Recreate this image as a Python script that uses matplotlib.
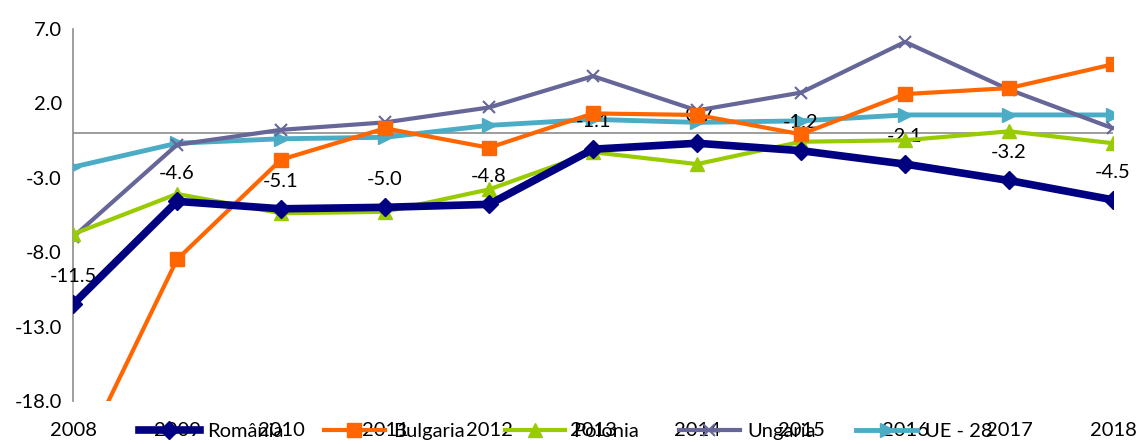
import numpy as np
import matplotlib
matplotlib.use("Agg")
import matplotlib.pyplot as plt

plt.rcParams['font.family'] = ['Lato', 'DejaVu Sans']

years = [2008, 2009, 2010, 2011, 2012, 2013, 2014, 2015, 2016, 2017, 2018]
romania = [-11.5, -4.6, -5.1, -5.0, -4.8, -1.1, -0.7, -1.2, -2.1, -3.2, -4.5]
bulgaria = [-22.9, -8.5, -1.8, 0.3, -1.0, 1.3, 1.2, -0.1, 2.6, 3.0, 4.6]
polonia = [-6.8, -4.1, -5.4, -5.3, -3.8, -1.3, -2.1, -0.6, -0.5, 0.1, -0.7]
ungaria = [-7.0, -0.8, 0.2, 0.7, 1.7, 3.8, 1.5, 2.7, 6.1, 2.9, 0.3]
ue28 = [-2.3, -0.7, -0.4, -0.3, 0.5, 0.9, 0.7, 0.8, 1.2, 1.2, 1.2]
yticks = [7.0, 2.0, -3.0, -8.0, -13.0, -18.0]

fs = 14.5

fig = plt.figure(figsize=(11.43, 4.44), dpi=100)
ax = fig.add_axes([0.0639, 0.0968, 0.9099, 0.839])

ax.axhline(0, color='#8c8c8c', lw=1.2, zorder=1)

ax.plot(years, ue28, color='#4bacc6', lw=3.5, marker='>', ms=10, label='UE - 28', zorder=3)
ax.plot(years, ungaria, color='#666699', lw=3, marker='x', ms=9, mew=1.5, label='Ungaria', zorder=4)
ax.plot(years, polonia, color='#99cc00', lw=3, marker='^', ms=10, label='Polonia', zorder=5)
ax.plot(years, bulgaria, color='#ff6600', lw=3, marker='s', ms=10, label='Bulgaria', zorder=6)
ax.plot(years, romania, color='#000080', lw=5.5, marker='D', ms=9, label='România', zorder=7)

for x, v in zip(years, romania):
    ax.annotate('%.1f' % v, (x, v), xytext=(0, 20), textcoords='offset points',
                ha='center', va='center', fontsize=fs)

ax.set_xlim(2008, 2018)
ax.set_ylim(-18, 7)
ax.set_yticks(yticks)
ax.set_yticklabels(['%.1f' % t for t in yticks])
ax.set_xticks(years)
ax.set_xticklabels([str(y) for y in years])
ax.tick_params(axis='both', length=0, labelsize=fs)
ax.tick_params(axis='x', pad=15)
ax.tick_params(axis='y', pad=8)

for s in ['top', 'right', 'bottom']:
    ax.spines[s].set_visible(False)
ax.spines['left'].set_color('#8c8c8c')
ax.spines['left'].set_linewidth(1.2)

h, l = ax.get_legend_handles_labels()
order = [4, 3, 2, 1, 0]
fig.legend([h[i] for i in order], [l[i] for i in order], loc='center',
           bbox_to_anchor=(0.495, 0.028), ncol=5, frameon=False, fontsize=fs,
           handlelength=3.0, handletextpad=0.4, columnspacing=2.0,
           borderaxespad=0, borderpad=0)

fig.savefig('out.png', dpi=100)
